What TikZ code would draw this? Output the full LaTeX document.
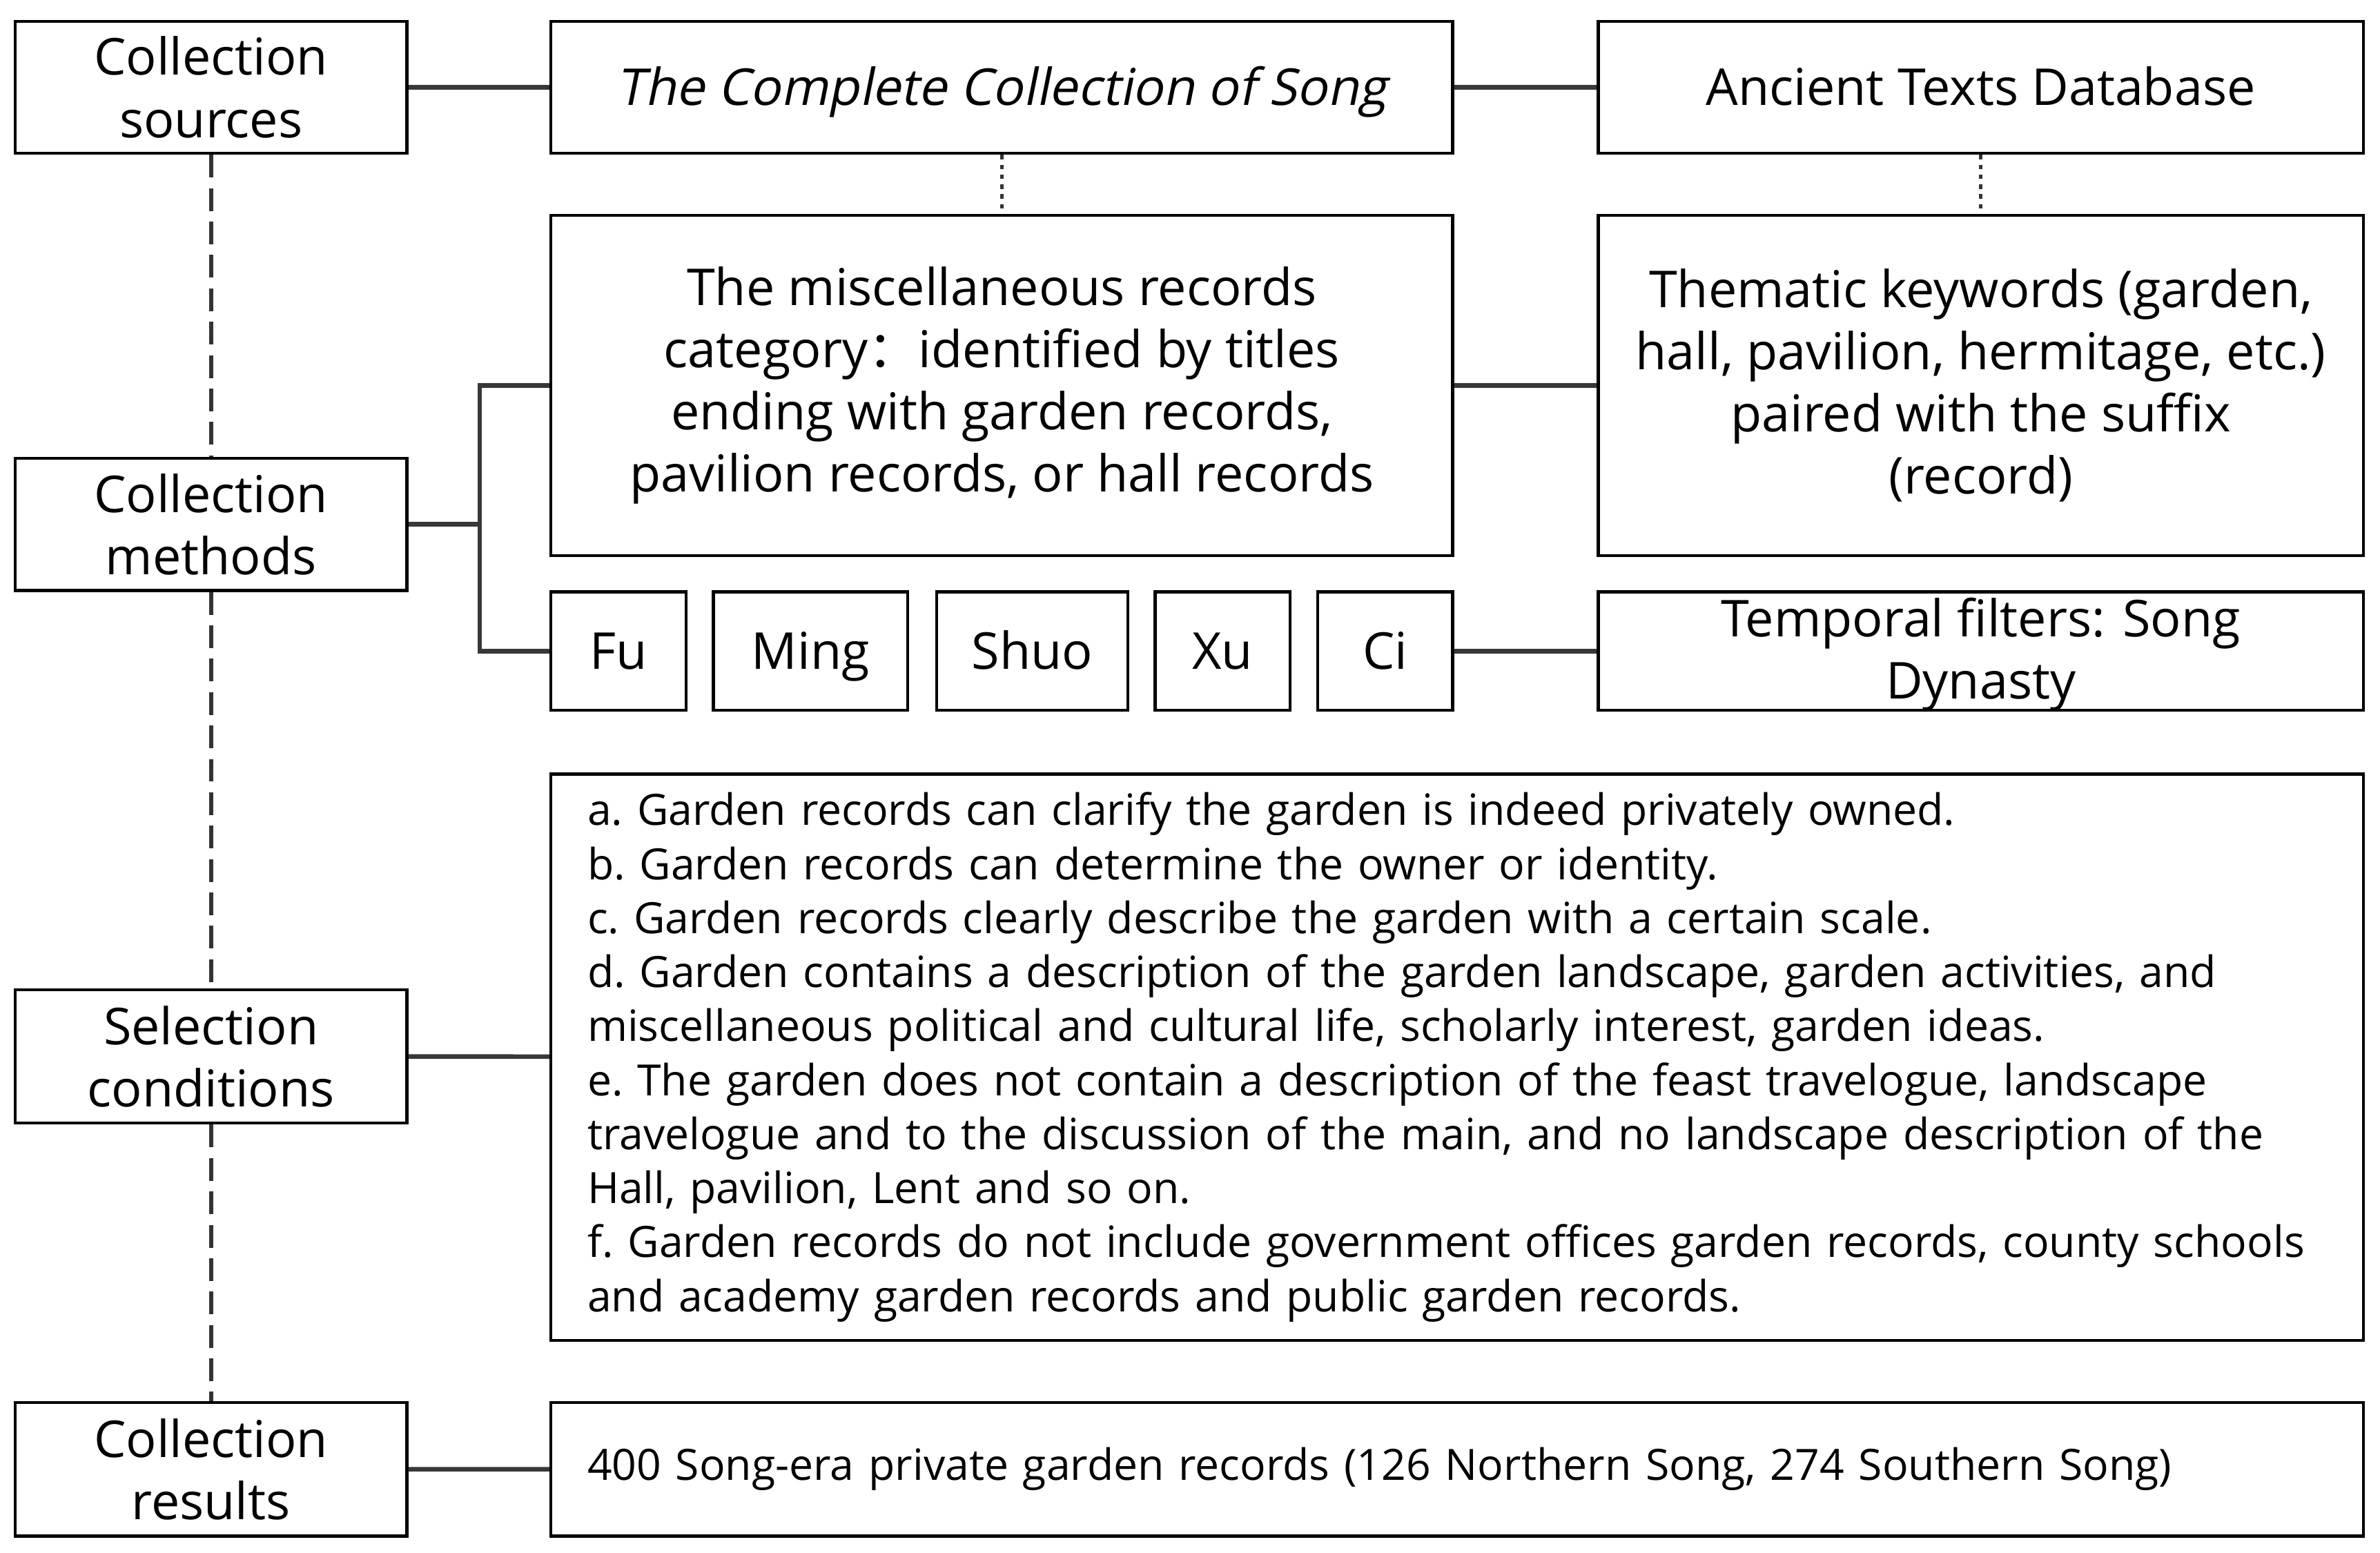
\documentclass[tikz,border=0pt]{standalone}
\usepackage{fontspec}
\setmainfont{Open Sans}
\newfontfamily\slantfont[FakeSlant=0.2]{Open Sans}
\newfontfamily\cjk{Noto Sans CJK SC}
\tikzstyle{blk}=[rectangle, draw=black, line width=2pt, inner sep=0pt, align=center, font=\fontsize{33.5}{41}\selectfont]
\tikzstyle{oneline}=[text height=24pt, text depth=0pt]
\tikzstyle{link}=[line width=3pt, draw=black!78]
\tikzstyle{note}=[align=left, text width=1146pt, font=\fontsize{28.4}{35.6}\selectfont\frenchspacing]
\newcommand{\blk}{\node[blk]}

\begin{document}
\begin{tikzpicture}[x=1pt,y=-1pt]
\useasboundingbox (0,0) rectangle (1568,1023);
%left column
\blk (src) at (139,57.5) [minimum width=258pt, minimum height=87pt]{Collection\\sources};
\blk (meth) at (139,345.5) [minimum width=258pt, minimum height=87pt]{Collection\\methods};
\blk (sel) at (139,696) [minimum width=258pt, minimum height=88pt]{Selection\\conditions};
\blk (res) at (139,968) [minimum width=258pt, minimum height=88pt]{Collection\\results};
%sources
\blk (song) at (660,57.5) [minimum width=594pt, minimum height=87pt, oneline]{\slantfont The Complete Collection of Song};
\blk (db) at (1305,57.5) [minimum width=504pt, minimum height=87pt, oneline]{Ancient Texts Database};
%methods
\blk (misc) at (660,254) [minimum width=594pt, minimum height=224pt]{The miscellaneous records\\category{\cjk ：}identified by titles\\ending with garden records,\\pavilion records, or hall records};
\blk (kw) at (1305,254) [minimum width=504pt, minimum height=224pt]{Thematic keywords (garden,\\hall, pavilion, hermitage, etc.)\\paired with the suffix\\(record)};
\foreach \n/\x/\w in {Fu/407.5/89,Ming/534/128,Shuo/680/126,Xu/805.5/89,Ci/912.5/89}{
	\blk (\n) at (\x,429) [minimum width=\w pt, minimum height=78pt, oneline]{\n};
	}
\blk (temp) at (1305,429) [minimum width=504pt, minimum height=78pt]{};
\node[blk, draw=none] (templbl) at (1305,431) {Temporal filters: Song\\Dynasty};
%conditions and results
\blk (cond) at (960,696.5) [minimum width=1194pt, minimum height=373pt, note]{a. Garden records can clarify the garden is indeed privately owned.\\
b. Garden records can determine the owner or identity.\\
c. Garden records clearly describe the garden with a certain scale.\\
d. Garden contains a description of the garden landscape, garden activities, and\\
miscellaneous political and cultural life, scholarly interest, garden ideas.\\
e. The garden does not contain a description of the feast travelogue, landscape\\
travelogue and to the discussion of the main, and no landscape description of the\\
Hall, pavilion, Lent and so on.\\
f. Garden records do not include government offices garden records, county schools\\
and academy garden records and public garden records.};
\blk (out) at (960,968) [minimum width=1194pt, minimum height=88pt, note]{400 Song-era private garden records (126 Northern Song, 274 Southern Song)};
%solid links
\coordinate (split) at (316,345.5);
\draw[link] (src) -- (song) (song) -- (db) (misc) -- (kw) (Ci) -- (temp);
\draw[link] (sel) -- (cond) (res) -- (out);
\draw[link] (meth.east) -- (split) (split) |- (misc.west) (split) |- (Fu.west);
%dashed and dotted links
\draw[line width=2.8pt, draw=black!80, dash pattern=on 15pt off 7pt] (src) -- (meth) (meth) -- (sel) (sel) -- (res);
\draw[line width=2.4pt, draw=black!80, dash pattern=on 3pt off 3.5pt] (song) -- (misc) (db) -- (kw);
\end{tikzpicture}
\end{document}
